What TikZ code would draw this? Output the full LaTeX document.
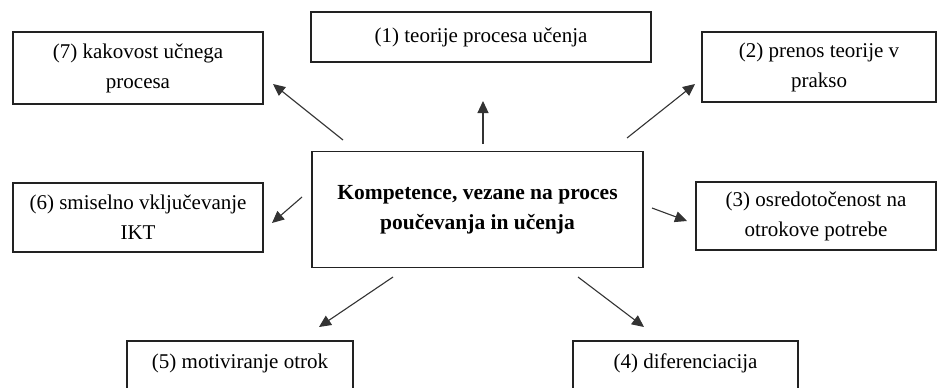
\documentclass[tikz,border=0pt]{standalone}
\usepackage{fontspec}
\setmainfont{Liberation Serif}
\usetikzlibrary{arrows.meta}
\definecolor{boxline}{HTML}{222222}
\definecolor{arrline}{HTML}{333333}
\tikzset{
  box/.style={draw=boxline, line width=1.2pt, rectangle, inner sep=0pt, align=center,
    font=\fontsize{21}{30}\selectfont, text=black},
  centerbox/.style={box, font=\bfseries\fontsize{21.5}{30}\selectfont},
  arr/.style={draw=arrline, line width=1.1pt, -{Triangle[length=12pt,width=11pt]}}
}
\begin{document}
\begin{tikzpicture}[x=1pt,y=-1pt]
\useasboundingbox (0,0) rectangle (937,388);
\clip (0,0) rectangle (937,388);
\node[box, minimum width=340, minimum height=50] (n1) at (481,37) {(1) teorije procesa učenja};
\node[box, minimum width=250, minimum height=72] (n7) at (138,68) {(7) kakovost učnega\\procesa};
\node[box, minimum width=234, minimum height=70] (n2) at (819,67) {(2) prenos teorije v\\prakso};
\node[box, minimum width=250, minimum height=69] (n6) at (138,217.5) {(6) smiselno vključevanje\\IKT};
\node[centerbox, minimum width=331, minimum height=116] (nc) at (477.5,209.5) {Kompetence, vezane na proces\\poučevanja in učenja};
\node[box, minimum width=240, minimum height=68] (n3) at (816,216) {(3) osredotočenost na\\otrokove potrebe};
\node[box, minimum width=226, minimum height=70] (n5) at (240,376) {(5) motiviranje otrok\\\mbox{}};
\node[box, minimum width=225, minimum height=70] (n4) at (685.5,376) {(4) diferenciacija\\\mbox{}};
% arrow end points
\coordinate (s7) at (343,140); \coordinate (t7) at (273,84);
\coordinate (s1) at (483,144); \coordinate (t1) at (483,101);
\coordinate (s2) at (627,138); \coordinate (t2) at (695,84);
\coordinate (s6) at (302,197); \coordinate (t6) at (272,223);
\coordinate (s3) at (652,208); \coordinate (t3) at (687,221);
\coordinate (s5) at (393,277); \coordinate (t5) at (319,327);
\coordinate (s4) at (578,277); \coordinate (t4) at (644,327);
\draw[arr] (s7) -- (t7);
\draw[arr] (s1) -- (t1);
\draw[arr] (s2) -- (t2);
\draw[arr] (s6) -- (t6);
\draw[arr] (s3) -- (t3);
\draw[arr] (s5) -- (t5);
\draw[arr] (s4) -- (t4);
\end{tikzpicture}
\end{document}
